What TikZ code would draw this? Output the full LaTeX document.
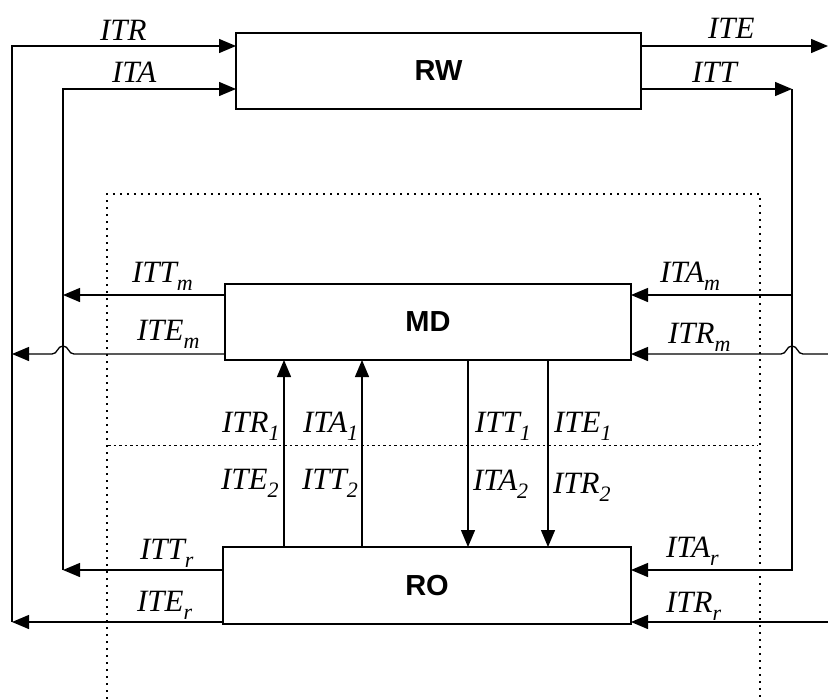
\documentclass[tikz,border=0pt]{standalone}
\usepackage{fontspec}
\usetikzlibrary{arrows.meta,calc}
\newfontfamily\lblfam{Liberation Serif}
\newfontfamily\boxfam{Liberation Sans}
\newcommand\mysub[1]{\raisebox{-8pt}{\fontsize{22}{24}\selectfont #1}}
\tikzset{
  box/.style={draw, line width=2pt, inner sep=0pt, outer sep=0pt,
    font=\boxfam\bfseries\fontsize{29}{34}\selectfont},
  lbl/.style={anchor=base west, inner sep=0pt, outer sep=0pt,
    font=\lblfam\itshape\fontsize{31}{36}\selectfont},
  wire/.style={line width=1.3pt},
  arr/.style={wire, -{Triangle[length=17pt,width=14pt]}},
  dotline/.style={line width=1.6pt, dash pattern=on 1.6pt off 5.4pt},
  midline/.style={line width=1pt, dash pattern=on 2.5pt off 3pt}
}
\begin{document}
\begin{tikzpicture}[x=1pt,y=-1pt]
\useasboundingbox[fill=white] (0,0) rectangle (828,699);
% dotted frame
\draw[dotline] (107,699) -- (107,194) -- (760,194) -- (760,699);
\draw[midline] (108,445) -- (758,445);
% boxes
\node[box, minimum width=405pt, minimum height=76pt] (RW) at (438.5,71) {RW};
\node[box, line width=2.6pt, minimum width=406pt, minimum height=76pt] (MD) at (428,322) {MD};
\node[box, minimum width=408pt, minimum height=77pt] (RO) at (427,585.5) {RO};
% helper coordinates
\coordinate (L1t) at (12,46);
\coordinate (L1m) at (12,354);
\coordinate (L1b) at (12,622);
\coordinate (L2t) at (63,89);
\coordinate (L2m) at (63,295);
\coordinate (L2b) at (63,570);
\coordinate (J1) at (63,354);
\coordinate (R0t) at (828,46);
\coordinate (R1t) at (792,89);
\coordinate (R1m) at (792,295);
\coordinate (R1b) at (792,570);
\coordinate (J2) at (792,354);
\coordinate (R2m) at (828,354);
\coordinate (R2b) at (828,622);
\coordinate (V1) at (284,0);
\coordinate (V2) at (362,0);
\coordinate (V3) at (468,0);
\coordinate (V4) at (548,0);
% left loops
\draw[arr] (L1b) -- (L1t) -- (L1t -| RW.west);
\draw[arr] (RO.west |- L1b) -- (L1b);
\draw[arr] (MD.west |- L1m) -- ($(J1)+(11,0)$)
  .. controls ($(J1)+(5,0)$) and ($(J1)+(6,-8)$) .. ($(J1)+(0,-8)$)
  .. controls ($(J1)+(-6,-8)$) and ($(J1)+(-5,0)$) .. ($(J1)+(-11,0)$) -- (L1m);
\draw[arr] (L2b) -- (L2t) -- (L2t -| RW.west);
\draw[arr] (RO.west |- L2b) -- (L2b);
\draw[arr] (MD.west |- L2m) -- (L2m);
% right loops
\draw[arr] (RW.east |- R0t) -- (R0t);
\draw[arr] (RW.east |- R1t) -- (R1t);
\draw[arr] (R1t) -- (R1b) -- (R1b -| RO.east);
\draw[arr] (R1m) -- (R1m -| MD.east);
\draw[arr] (R2m) -- ($(J2)+(11,0)$)
  .. controls ($(J2)+(5,0)$) and ($(J2)+(6,-8)$) .. ($(J2)+(0,-8)$)
  .. controls ($(J2)+(-6,-8)$) and ($(J2)+(-5,0)$) .. ($(J2)+(-11,0)$) -- (R2m -| MD.east);
\draw[arr] (R2b) -- (R2b -| RO.east);
% vertical arrows
\draw[arr] (V1 |- RO.north) -- (V1 |- MD.south);
\draw[arr] (V2 |- RO.north) -- (V2 |- MD.south);
\draw[arr] (V3 |- MD.south) -- (V3 |- RO.north);
\draw[arr] (V4 |- MD.south) -- (V4 |- RO.north);
% labels
\node[lbl] (tITR) at (100,40) {ITR};
\node[lbl] (tITA) at (112,82) {ITA};
\node[lbl] (tITE) at (708,38) {ITE};
\node[lbl] (tITT) at (692,82) {ITT};
\node[lbl] (tITTm) at (132,282) {ITT\mysub{m}};
\node[lbl] (tITEm) at (137,340) {ITE\mysub{m}};
\node[lbl] (tITAm) at (660,282) {ITA\mysub{m}};
\node[lbl] (tITRm) at (668,343) {ITR\mysub{m}};
\node[lbl] (tITR1) at (222,432) {ITR\mysub{1}};
\node[lbl] (tITA1) at (303,432) {ITA\mysub{1}};
\node[lbl] (tITT1) at (475,432) {ITT\mysub{1}};
\node[lbl] (tITE1) at (554,432) {ITE\mysub{1}};
\node[lbl] (tITE2) at (221,489) {ITE\mysub{2}};
\node[lbl] (tITT2) at (302,489) {ITT\mysub{2}};
\node[lbl] (tITA2) at (473,490) {ITA\mysub{2}};
\node[lbl] (tITR2) at (553,493) {ITR\mysub{2}};
\node[lbl] (tITTr) at (140,559) {ITT\mysub{r}};
\node[lbl] (tITEr) at (137,611) {ITE\mysub{r}};
\node[lbl] (tITAr) at (666,557) {ITA\mysub{r}};
\node[lbl] (tITRr) at (666,612) {ITR\mysub{r}};
\end{tikzpicture}
\end{document}
